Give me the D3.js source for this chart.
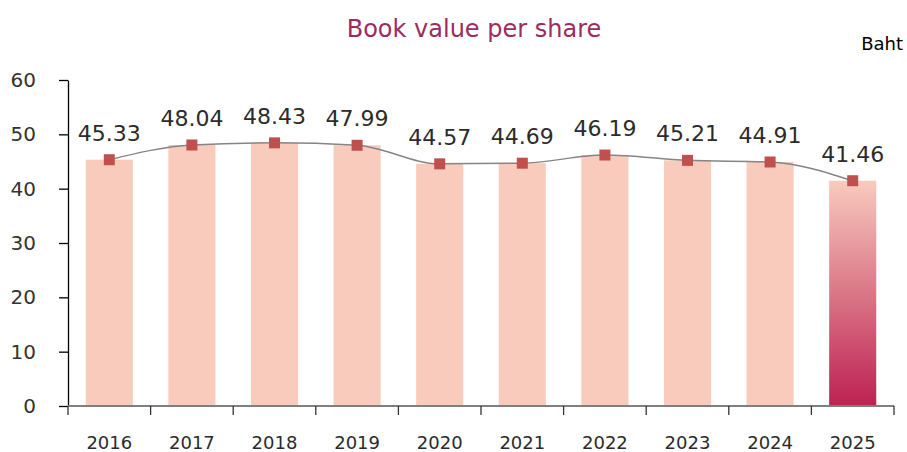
<!DOCTYPE html>
<html>
<head>
<meta charset="utf-8">
<script src="https://cdn.jsdelivr.net/npm/d3@7"></script>
<style>
  body { margin: 0; background: #fff; }
  svg text { font-family: "DejaVu Sans", sans-serif; }
</style>
</head>
<body>
<div class="bvps_chart"></div>
<script>
const years = ["2016", "2017", "2018", "2019", "2020", "2021", "2022", "2023", "2024", "2025"];
const bookValue = [45.33, 48.04, 48.43, 47.99, 44.57, 44.69, 46.19, 45.21, 44.91, 41.46];
const yTicks = [0, 10, 20, 30, 40, 50, 60];

const width = 907, height = 452;
const margin = { top: 80, right: 13, bottom: 46, left: 68 };

const svg = d3.select(".bvps_chart")
              .append("svg")
                  .attr("width", width)
                  .attr("height", height);

/* gradient for the latest year */
const grad = svg.append("defs")
                .append("linearGradient")
                    .attr("id", "lastBar")
                    .attr("x1", 0).attr("y1", 0)
                    .attr("x2", 0).attr("y2", 1);
grad.append("stop").attr("offset", "0%").attr("stop-color", "#f8cbbd");
grad.append("stop").attr("offset", "100%").attr("stop-color", "#bd2151");

const x = d3.scaleBand()
            .domain(years)
            .range([margin.left, width - margin.right])
            .paddingInner(0.43)
            .paddingOuter(0.215);

const y = d3.scaleLinear()
            .domain([0, 60])
            .range([height - margin.bottom, margin.top]);

/* bars */
svg.selectAll("rect.bar")
   .data(bookValue)
   .enter()
   .append("rect")
       .attr("class", "bar")
       .attr("x", (d, i) => x(years[i]))
       .attr("y", d => y(d))
       .attr("width", x.bandwidth())
       .attr("height", d => y(0) - y(d))
       .attr("fill", (d, i) => i === years.length - 1 ? "url(#lastBar)" : "#f8cbbd");

/* y axis */
const yAxis = svg.append("g")
                 .attr("transform", "translate(" + margin.left + ",0)")
                 .call(d3.axisLeft(y).tickValues(yTicks).tickSize(9).tickSizeOuter(0).tickPadding(23));
yAxis.select(".domain").attr("stroke", "#000").attr("stroke-width", 1.3);
yAxis.selectAll(".tick line").attr("stroke", "#000").attr("stroke-width", 1.3);
yAxis.selectAll("text").attr("font-size", "20px").attr("fill", "#333").attr("font-family", "DejaVu Sans");

/* x axis, ticks between categories */
const xAxisG = svg.append("g")
                  .attr("transform", "translate(0," + y(0) + ")");
xAxisG.append("line")
      .attr("x1", margin.left).attr("x2", width - margin.right)
      .attr("stroke", "#7f7f7f").attr("stroke-width", 2);
const step = x.step();
const boundaries = d3.range(years.length + 1).map(i => margin.left + i * step);
xAxisG.selectAll("line.tick")
      .data(boundaries)
      .enter()
      .append("line")
          .attr("class", "tick")
          .attr("x1", d => d).attr("x2", d => d)
          .attr("y1", 0).attr("y2", 9)
          .attr("stroke", "#333").attr("stroke-width", 1.3);
xAxisG.selectAll("text")
      .data(years)
      .enter()
      .append("text")
          .attr("x", d => x(d) + x.bandwidth() / 2)
          .attr("y", 43)
          .attr("text-anchor", "middle")
          .attr("font-size", "18px")
          .attr("fill", "#2b2b2b")
          .text(d => d);

/* line with markers */
const line = d3.line()
               .x((d, i) => x(years[i]) + x.bandwidth() / 2)
               .y(d => y(d))
               .curve(d3.curveMonotoneX);

svg.append("path")
   .datum(bookValue)
   .attr("d", line)
   .attr("fill", "none")
   .attr("stroke", "#858585")
   .attr("stroke-width", 1.5);

svg.selectAll("rect.marker")
   .data(bookValue)
   .enter()
   .append("rect")
       .attr("class", "marker")
       .attr("x", (d, i) => x(years[i]) + x.bandwidth() / 2 - 5.5)
       .attr("y", d => y(d) - 5.5)
       .attr("width", 11)
       .attr("height", 11)
       .attr("fill", "#c0504d");

svg.selectAll("text.label")
   .data(bookValue)
   .enter()
   .append("text")
       .attr("class", "label")
       .attr("x", (d, i) => x(years[i]) + x.bandwidth() / 2)
       .attr("y", d => y(d) - 19)
       .attr("text-anchor", "middle")
       .attr("font-size", "22px")
       .attr("fill", "#2b2b2b")
       .text(d => d.toFixed(2));

/* titles */
svg.append("text")
   .attr("x", 474)
   .attr("y", 37)
   .attr("text-anchor", "middle")
   .attr("font-size", "24px")
   .attr("fill", "#9c2c60")
   .text("Book value per share");

svg.append("text")
   .attr("x", 903)
   .attr("y", 50)
   .attr("text-anchor", "end")
   .attr("font-size", "18px")
   .attr("fill", "#000")
   .text("Baht");
</script>
</body>
</html>
